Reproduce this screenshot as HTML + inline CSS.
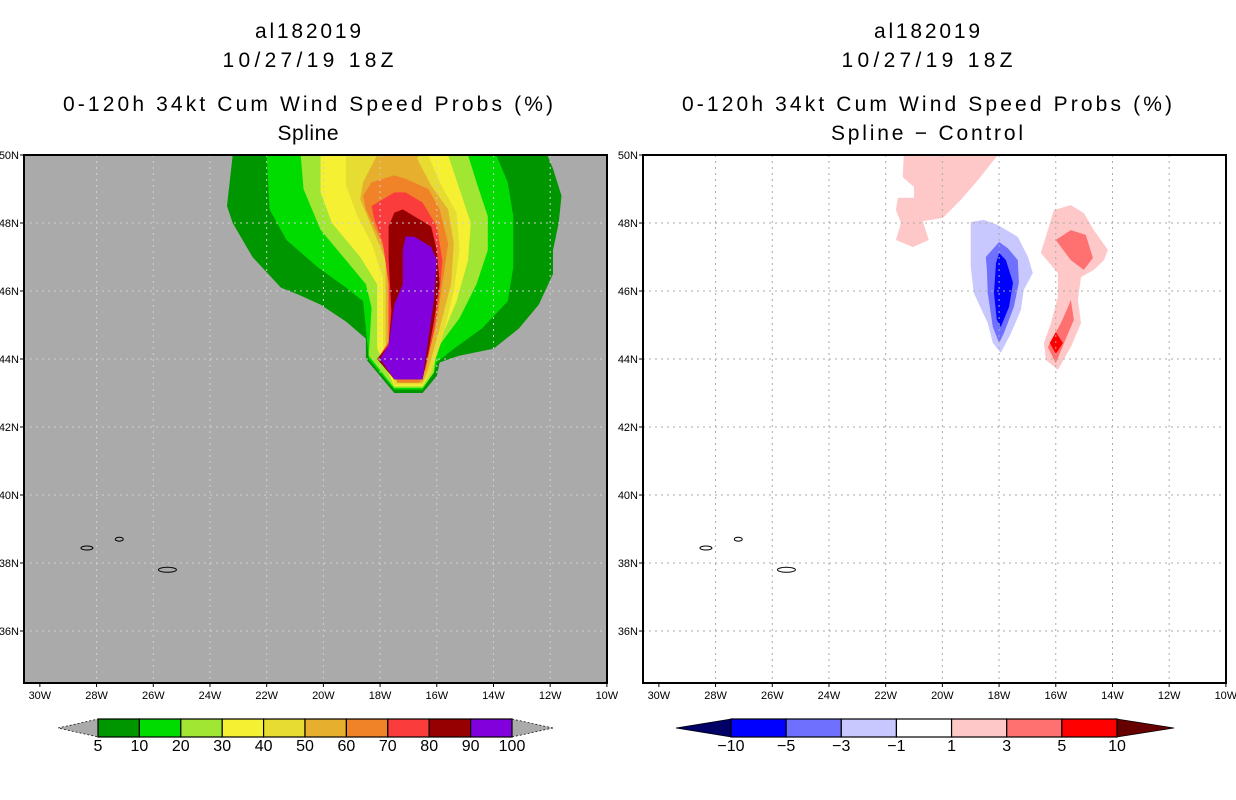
<!DOCTYPE html>
<html><head><meta charset="utf-8"><style>
body{margin:0;background:#fff;}
svg{display:block;font-family:"Liberation Sans",sans-serif;}
</style></head><body>
<svg id="s" width="1236" height="800" viewBox="0 0 1236 800"></svg>
<script>
const lonTicks=[-30,-28,-26,-24,-22,-20,-18,-16,-14,-12,-10];
const latTicks=[36,38,40,42,44,46,48,50];
const leftLevels=[5,10,20,30,40,50,60,70,80,90,100];
const leftColors=["#009600","#00dc00","#a0e632","#f5f032","#e6dc32","#e6af2d","#f08228","#fa3c3c","#960000","#8200dc"];
const rightLevels=[-10,-5,-3,-1,1,3,5,10];
const rightColors=["#0000ff","#7070ff","#c8c8ff","#ffffff","#ffc8c8","#ff7070","#ff0000"];
const c5=[[-23.2,50],[-23.4,48.5],[-23.2,48],[-22.5,47],[-21.5,46.1],[-20.9,45.9],[-20.1,45.6],[-19.2,45.1],[-18.5,44.6],[-18.5,44],[-17.5,43],[-16.5,43],[-16,43.5],[-15.9,43.9],[-15.2,44.1],[-14,44.3],[-13.1,44.9],[-12.4,45.6],[-11.9,46.5],[-11.9,47.2],[-11.7,48],[-11.6,48.8],[-11.9,49.6],[-12.1,50]];
const c10=[[-22,50],[-21.9,48.4],[-21.3,47.5],[-20.2,46.7],[-19.2,46.1],[-18.6,45.7],[-18.5,44.9],[-18.4,44],[-17.5,43.1],[-16.5,43.1],[-16.1,43.6],[-16,43.9],[-15.4,44.3],[-14.4,44.9],[-13.5,45.7],[-13.3,46.7],[-13.3,48.2],[-13.5,49.2],[-13.9,50]];
const c20=[[-20.8,50],[-20.7,49],[-20.1,47.8],[-19.2,46.9],[-18.5,46.2],[-18.3,45.5],[-18.4,44.1],[-17.5,43.15],[-16.5,43.15],[-16.1,43.6],[-16,44.3],[-15.2,45.2],[-14.6,46.2],[-14.2,47.2],[-14.2,48.2],[-14.6,49.2],[-14.9,50]];
const c30=[[-20.1,50],[-20.1,48.9],[-19.7,48],[-18.7,47],[-18.1,46.2],[-18.1,44.3],[-17.5,43.2],[-16.5,43.2],[-16.2,43.6],[-15.9,44.5],[-15.3,45.7],[-14.9,46.9],[-14.8,48],[-15.2,49],[-15.6,50]];
const c40=[[-19.2,50],[-19.2,49.1],[-18.8,48.2],[-18.3,47.4],[-17.9,46.4],[-17.9,44.4],[-17.5,43.25],[-16.5,43.25],[-16.2,43.6],[-15.8,44.6],[-15.4,46],[-15.2,47.2],[-15.3,48.3],[-15.9,49.2],[-16.3,50]];
const c50=[[-18.1,50],[-18.6,49.2],[-18.7,48.7],[-18.3,47.9],[-17.8,46.9],[-17.8,44.5],[-17.4,43.3],[-16.5,43.3],[-16.3,43.7],[-15.9,44.9],[-15.5,46.2],[-15.4,47.4],[-15.6,48.4],[-16.2,49.1],[-16.7,49.9],[-16.6,50]];
const c60=[[-18.6,48.8],[-18.3,49.2],[-17.5,49.4],[-17.1,49.3],[-16.3,49],[-15.9,48.4],[-15.6,47.4],[-15.8,46.2],[-16,45.1],[-16.4,43.8],[-16.6,43.3],[-17.4,43.3],[-17.7,44.5],[-17.7,46.9],[-18.1,47.7],[-18.5,48.4]];
const c70=[[-18.3,48.5],[-17.5,48.9],[-17.1,48.9],[-16.5,48.6],[-16,47.9],[-15.8,46.9],[-15.9,45.9],[-16.1,44.8],[-16.4,43.7],[-16.6,43.4],[-17.4,43.4],[-18.1,44],[-17.7,44.5],[-17.7,46.2],[-17.9,47.4],[-18.2,48.1]];
const c80=[[-17.5,48.3],[-17.2,48.4],[-16.8,48.2],[-16.2,47.9],[-16,47.2],[-15.9,46.2],[-16.1,45.1],[-16.3,44.2],[-16.5,43.4],[-17.5,43.4],[-18.1,44],[-17.7,44.4],[-17.6,45.4],[-17.7,46.9],[-17.7,47.9]];
const c90=[[-17.1,47.6],[-16.8,47.6],[-16.2,47.3],[-16,46.9],[-16.1,45.7],[-16.4,44],[-16.5,43.4],[-17.5,43.4],[-18,44],[-17.7,44.4],[-17.5,45.6],[-17.2,46.2],[-17.2,47.2]];
const pTop=[[-21.36,50],[-21.4,49.35],[-21,49.06],[-21,48.74],[-21.57,48.74],[-21.64,48.38],[-21.46,48],[-21.64,47.5],[-21.04,47.29],[-20.48,47.5],[-20.69,48.05],[-19.98,48.15],[-19.35,48.68],[-18.75,49.26],[-18.04,50]];
const bLight=[[-19,48.03],[-18.54,48.09],[-18.04,47.94],[-17.34,47.59],[-16.98,47],[-16.81,46.53],[-17.13,46.03],[-17.23,45.44],[-17.58,44.76],[-17.94,44.18],[-18.22,44.47],[-18.4,45.06],[-18.89,45.94],[-19,46.71]];
const bMid=[[-18,47.44],[-17.69,47.26],[-17.34,46.91],[-17.3,46.24],[-17.48,45.53],[-17.83,44.76],[-18,44.47],[-18.22,44.94],[-18.4,45.94],[-18.43,46.62],[-18.47,47]];
const bDark=[[-18,47.12],[-17.76,46.91],[-17.51,46.24],[-17.65,45.53],[-17.94,44.94],[-18.08,45.15],[-18.18,45.94],[-18.11,46.82]];
const pRight=[[-16.53,47.12],[-16.28,47.79],[-16.07,48.38],[-15.47,48.53],[-15.01,48.29],[-14.66,47.79],[-14.16,47.21],[-14.3,46.91],[-14.66,46.62],[-15.11,46.41],[-15.22,45.74],[-15.11,45.06],[-15.47,44.35],[-15.93,43.68],[-16.35,43.97],[-16.42,44.47],[-16.17,45.06],[-15.93,45.82],[-15.93,46.53]];
const sUp=[[-16,47.5],[-15.47,47.79],[-14.94,47.65],[-14.69,46.97],[-15.01,46.62],[-15.47,46.91]];
const sLow=[[-15.47,45.74],[-15.36,45.15],[-15.71,44.47],[-16,43.88],[-16.28,44.35],[-15.82,45.06],[-15.57,45.53]];
const rDia=[[-16,44.79],[-15.75,44.47],[-16,44.15],[-16.21,44.47]];
const islands=[[-28.34,38.44,6,2],[-27.2,38.7,4,2],[-25.5,37.8,9,2.5]];

const NS="http://www.w3.org/2000/svg";
const svg=document.getElementById('s');
function mk(t,a,p){const e=document.createElementNS(NS,t);for(const k in a)e.setAttribute(k,a[k]);(p||svg).appendChild(e);return e;}
const W=583,H=528,TOP=155,LON0=-30.56,LAT1=50,PXD=28.35,PYD=34;
function panel(x0,bg,gridCol,title2,t2len,contours,name){
  const g=mk('g',{});
  
  
  const X=lon=>x0+(lon-LON0)*PXD, Y=lat=>TOP+(LAT1-lat)*PYD;
  const cx=x0+284;
  const tl=[["al182019",38,106],["10/27/19 18Z",67,171],["0-120h 34kt Cum Wind Speed Probs (%)",111,490],[title2,140,t2len]];
  tl.forEach((t,i)=>{const e=mk('text',{x:cx,y:t[1],'text-anchor':'middle','font-size':21,fill:'#000',textLength:t[2],lengthAdjust:'spacing'},g);e.textContent=t[0];
    
    });
  const cp='cp'+x0;const d=mk('clipPath',{id:cp},g);mk('rect',{x:x0,y:TOP,width:W,height:H},d);
  const bgR=mk('rect',{x:x0,y:TOP,width:W,height:H,fill:bg},g);
  
  
  const cg=mk('g',{'clip-path':'url(#'+cp+')'},g);
  contours.forEach((c,i)=>{const p=mk('polygon',{points:c[0].map(q=>X(q[0]).toFixed(1)+','+Y(q[1]).toFixed(1)).join(' '),fill:c[1]},cg);
    
    });
  lonTicks.forEach(l=>{if(l>-30&&l<-10){const e=mk('line',{x1:X(l),x2:X(l),y1:TOP,y2:TOP+H,stroke:gridCol,'stroke-dasharray':'2,4','stroke-width':1},cg);
    
    }});
  latTicks.forEach(l=>{if(l<50){const e=mk('line',{x1:x0,x2:x0+W,y1:Y(l),y2:Y(l),stroke:gridCol,'stroke-dasharray':'2,4','stroke-width':1},cg);
    
    }});
  islands.forEach(s=>{const e=mk('ellipse',{cx:X(s[0]),cy:Y(s[1]),rx:s[2],ry:s[3],fill:'none',stroke:'#000','stroke-width':1},cg);
    
    });
  const fr=mk('rect',{x:x0,y:TOP,width:W,height:H,fill:'none',stroke:'#000','stroke-width':2},g);
  
  
  lonTicks.forEach(l=>{const x=X(l);mk('line',{x1:x,x2:x,y1:TOP+H,y2:TOP+H+4,stroke:'#000'},g);
    const e=mk('text',{x:x,y:TOP+H+16,'text-anchor':'middle','font-size':11,fill:'#000'},g);e.textContent=(-l)+'W';
    
    });
  latTicks.forEach(l=>{const y=Y(l);mk('line',{x1:x0-4,x2:x0,y1:y,y2:y,stroke:'#000'},g);
    const e=mk('text',{x:x0-5,y:y+4,'text-anchor':'end','font-size':11,fill:'#000'},g);e.textContent=l+'N';
    
    });
}
const L=[c5,c10,c20,c30,c40,c50,c60,c70,c80,c90];
panel(24,'#aaaaaa','#d0d0d0','Spline',61,L.map((c,i)=>[c,leftColors[i]]),'left-map');
panel(643,'#ffffff','#aaaaaa','Spline \u2212 Control',192,[[pTop,'#ffc8c8'],[pRight,'#ffc8c8'],[sUp,'#ff7070'],[sLow,'#ff7070'],[rDia,'#ff0000'],[bLight,'#c8c8ff'],[bMid,'#7070ff'],[bDark,'#0000ff']],'right-map');

function colorbar(x0,x1,tipL,tipR,levels,colors,cL,cR,name){
  const g=mk('g',{});
  
  
  const y0=719,y1=737,ym=728,n=colors.length,w=(x1-x0)/n;
  mk('polygon',{points:`${tipL},${ym} ${x0},${y0} ${x0},${y1}`,fill:cL,stroke:'#000','stroke-dasharray':cL=='#aaaaaa'?'2,2':'none','stroke-width':0.7},g);
  mk('polygon',{points:`${tipR},${ym} ${x1},${y0} ${x1},${y1}`,fill:cR,stroke:'#000','stroke-dasharray':cR=='#aaaaaa'?'2,2':'none','stroke-width':0.7},g);
  colors.forEach((c,i)=>{const r=mk('rect',{x:x0+i*w,y:y0,width:w,height:y1-y0,fill:c,stroke:'#000','stroke-width':1.2},g);
    
    });
  levels.forEach((v,i)=>{const e=mk('text',{x:x0+i*w,y:751,'text-anchor':'middle','font-size':16,fill:'#000'},g);e.textContent=String(v).replace('-','\u2212');
    
    });
}
colorbar(98,512,58,553,leftLevels,leftColors,'#aaaaaa','#aaaaaa','left-colorbar');
colorbar(731,1117,676,1174,rightLevels,rightColors,'#000066','#660000','right-colorbar');
</script>
</body></html>
